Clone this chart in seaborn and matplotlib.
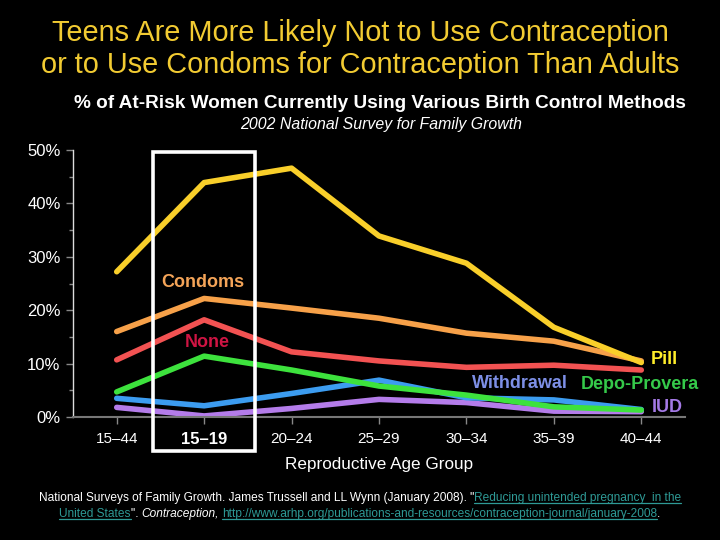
"""
Teens vs adults: contraceptive method use by age group (NSFG 2002)
"""
import numpy as np
import pandas as pd
import matplotlib
matplotlib.use("Agg")
import matplotlib.pyplot as plt
import seaborn as sns
from matplotlib.patches import Rectangle
from matplotlib.lines import Line2D
from matplotlib.ticker import MultipleLocator, FuncFormatter

# Data (fraction of at-risk women)
age_groups = ["15–44", "15–19", "20–24", "25–29", "30–34", "35–39", "40–44"]
pill = [0.272, 0.439, 0.466, 0.339, 0.288, 0.168, 0.102]
condoms = [0.160, 0.222, 0.204, 0.185, 0.157, 0.142, 0.105]
none = [0.107, 0.182, 0.122, 0.105, 0.093, 0.097, 0.088]
depo = [0.047, 0.114, 0.088, 0.058, 0.041, 0.019, 0.013]
withdrawal = [0.035, 0.021, 0.044, 0.069, 0.036, 0.032, 0.014]
iud = [0.018, 0.002, 0.016, 0.033, 0.027, 0.011, 0.010]

methods = ["Pill", "Condoms", "None", "Depo-Provera", "Withdrawal", "IUD"]
line_colors = {
    "Pill": "#F9CF2A",
    "Condoms": "#F7A149",
    "None": "#F25252",
    "Depo-Provera": "#3DE23D",
    "Withdrawal": "#3C9CF0",
    "IUD": "#B47CEA",
}

df = pd.DataFrame({
    "age": age_groups * 6,
    "x": list(range(len(age_groups))) * 6,
    "method": np.repeat(methods, len(age_groups)),
    "share": pill + condoms + none + depo + withdrawal + iud,
})

sns.set_theme(style="dark")
plt.rcParams["font.family"] = ["Liberation Sans", "DejaVu Sans"]

fig = plt.figure(figsize=(7.2, 5.4), dpi=100, facecolor="black")
ax = fig.add_axes([73 / 720, 1 - 417 / 540, 612 / 720, 267 / 540])
ax.set_facecolor("black")

# draw back-to-front so pill ends on top
order = ["IUD", "Withdrawal", "Depo-Provera", "None", "Condoms", "Pill"]
for m in order:
    sns.lineplot(data=df[df["method"] == m], x="x", y="share", color=line_colors[m],
                 linewidth=4.0, ax=ax, solid_capstyle="round", solid_joinstyle="round",
                 legend=False)

ax.set_xlim(-0.5, 6.5)
ax.set_ylim(0, 0.5)
ax.yaxis.set_major_locator(MultipleLocator(0.1))
ax.yaxis.set_minor_locator(MultipleLocator(0.05))
ax.yaxis.set_major_formatter(FuncFormatter(lambda v, p: f"{v * 100:.0f}%"))
ax.set_xticks(range(len(age_groups)))
ax.set_xticklabels(age_groups)
ax.grid(False)

for s in ["top", "right"]:
    ax.spines[s].set_visible(False)
ax.spines["left"].set_color("#DDDDDD")
ax.spines["left"].set_linewidth(1.0)
ax.spines["bottom"].set_color("#777777")
ax.spines["bottom"].set_linewidth(1.5)

ax.tick_params(axis="y", which="major", colors="#888888", labelcolor="white",
               labelsize=12, length=5, width=1, left=True, pad=4)
ax.tick_params(axis="y", which="minor", colors="#888888", length=3, width=1, left=True)
ax.tick_params(axis="x", colors="#888888", labelcolor="white", labelsize=11,
               length=5, width=1, bottom=True, pad=6)
for lbl in ax.get_xticklabels():
    if lbl.get_text() == "15–19":
        lbl.set_fontweight("bold")
        lbl.set_fontsize(12)

ax.set_xlabel("Reproductive Age Group", color="white", fontsize=12.3, labelpad=7)
ax.set_ylabel("")

# method labels
lab_kw = dict(fontsize=13, fontweight="bold", ha="center", va="center")
ax.text(0.98, 0.251, "Condoms", color="#F4A458", **lab_kw)
ax.text(1.04, 0.140, "None", color="#CF1443", **lab_kw)
ax.text(6.26, 0.107, "Pill", color="#FFEE2A", **lab_kw)
ax.text(4.61, 0.063, "Withdrawal", color="#7D8FE6", **lab_kw)
ax.text(5.98, 0.060, "Depo-Provera", color="#35C94A", **lab_kw)
ax.text(6.30, 0.017, "IUD", color="#A57AE6", **lab_kw)

# highlight box around the teens
fig.add_artist(Rectangle((153 / 720, 1 - 451 / 540), 102 / 720, 299 / 540,
                         transform=fig.transFigure, fill=False,
                         edgecolor="white", linewidth=2.6))

# titles
title_color = "#F2CB32"
fig.text(0.5, 1 - 33 / 540, "Teens Are More Likely Not to Use Contraception",
         color=title_color, fontsize=20.8, ha="center", va="center")
fig.text(0.5, 1 - 65 / 540, "or to Use Condoms for Contraception Than Adults",
         color=title_color, fontsize=20.8, ha="center", va="center")
fig.text(380 / 720, 1 - 103 / 540,
         "% of At-Risk Women Currently Using Various Birth Control Methods",
         color="white", fontsize=13.7, fontweight="bold", ha="center", va="center")
fig.text(381 / 720, 1 - 125 / 540, "2002 National Survey for Family Growth",
         color="white", fontsize=11.4, style="italic", ha="center", va="center")

# footer with mixed styles
link = "#2E9A96"
footer = [
    [("National Surveys of Family Growth. James Trussell and LL Wynn (January 2008). \"", "white", "normal", False),
     ("Reducing unintended pregnancy  in the", link, "normal", True)],
    [("United States", link, "normal", True),
     ("\". ", "white", "normal", False),
     ("Contraception,", "white", "italic", False),
     (" ", "white", "normal", False),
     ("http://www.arhp.org/publications-and-resources/contraception-journal/january-2008", link, "normal", True),
     (".", "white", "normal", False)],
]
renderer = fig.canvas.get_renderer()
for row, ypix in zip(footer, [501, 517]):
    pieces = []
    for txt, col, sty, und in row:
        t = fig.text(0, 1 - ypix / 540, txt, color=col, style=sty, fontsize=8.6,
                     ha="left", va="baseline", transform=fig.transFigure)
        w = t.get_window_extent(renderer).width
        pieces.append((t, w, und))
    total = sum(w for _, w, _ in pieces)
    x0 = 360 - total / 2
    for t, w, und in pieces:
        t.set_x(x0 / 720)
        if und:
            yl = 1 - (ypix + 2) / 540
            fig.add_artist(Line2D([x0 / 720, (x0 + w) / 720], [yl, yl],
                                  transform=fig.transFigure, color=link, linewidth=0.9))
        x0 += w

fig.savefig("out.png", dpi=100, facecolor="black")
